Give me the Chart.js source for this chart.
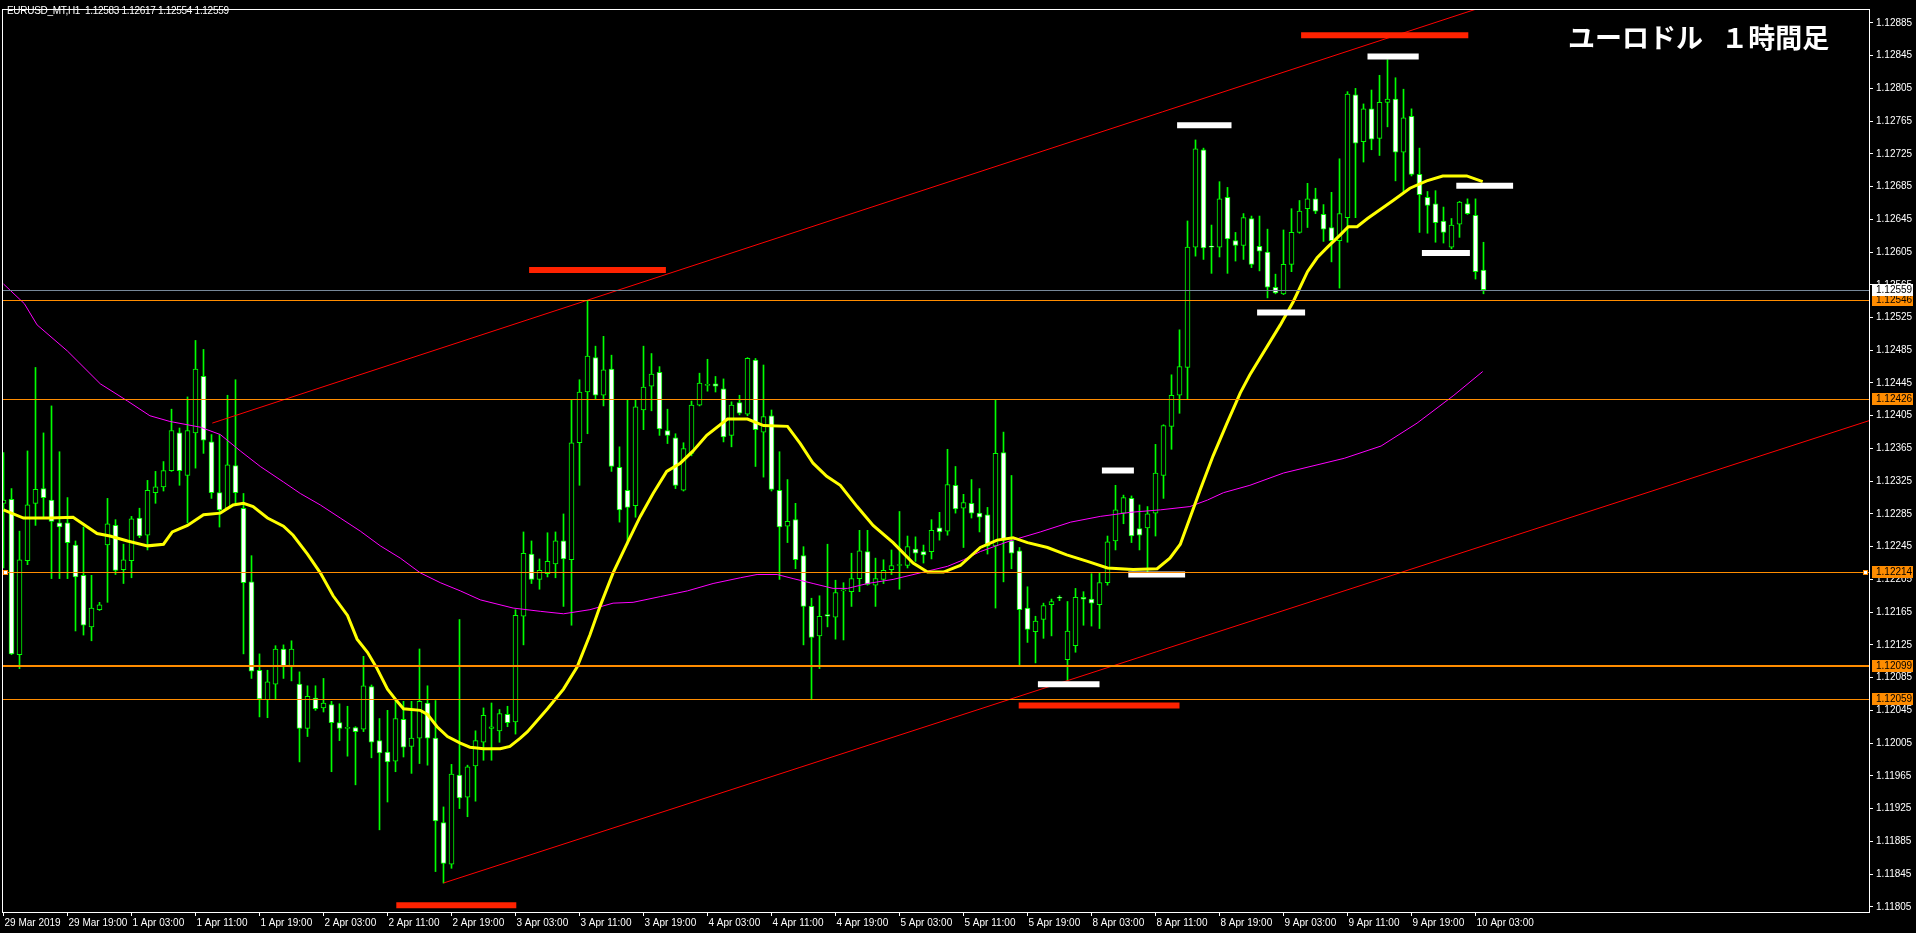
<!DOCTYPE html>
<html>
<head>
<meta charset="utf-8">
<title>EURUSD H1</title>
<script src="https://cdn.jsdelivr.net/npm/chart.js@4.4.1/dist/chart.umd.min.js"></script>
<style>
    html, body { margin: 0; padding: 0; background: #000; overflow: hidden; }
    #wrap { position: relative; width: 1916px; height: 933px; }
    #chart { position: absolute; left: 0; top: 0; }
    #title {
        position: absolute; left: 7px; top: 5px; color: #fff; white-space: pre;
        font: 10px/12px 'Liberation Sans', sans-serif; letter-spacing: -0.3px;
    }
    #caption {
        position: absolute; left: 1568px; top: 23px; color: #fff; white-space: pre;
        font: bold 27px/27px 'Noto Sans CJK JP', sans-serif; word-spacing: 12px;
    }
</style>
</head>
<body>
<div id="wrap">
    <canvas id="chart" width="1916" height="933"></canvas>
    <div id="title">EURUSD_MT,H1  1.12583 1.12617 1.12554 1.12559</div>
    <div id="caption">ユーロドル １時間足</div>
</div>
<script>
// --- candles, 29 Mar 2019 11:00 .. 10 Apr 2019 04:00 (H1)
const barOpen = [
    1.12298, 1.12303, 1.12113, 1.12228, 1.12298, 1.12316, 1.12302, 1.12274, 1.12274, 1.12247,
    1.12210, 1.12147, 1.12168, 1.12247, 1.12271, 1.12217, 1.12228, 1.12280, 1.12259, 1.12311,
    1.12318, 1.12338, 1.12384, 1.12332, 1.12384, 1.12453, 1.12373, 1.12311, 1.12292, 1.12344,
    1.12292, 1.12202, 1.12094, 1.12058, 1.12077, 1.12120, 1.12098, 1.12077, 1.12023, 1.12060,
    1.12048, 1.12052, 1.12030, 1.12023, 1.12024, 1.12022, 1.12074, 1.12008, 1.11994, 1.11983,
    1.12034, 1.12001, 1.12011, 1.12054, 1.12011, 1.11908, 1.11857, 1.11966, 1.11939, 1.11977,
    1.12006, 1.12023, 1.12020, 1.12040, 1.12031, 1.12160, 1.12236, 1.12205, 1.12212, 1.12224,
    1.12252, 1.12229, 1.12372, 1.12434, 1.12476, 1.12430, 1.12462, 1.12342, 1.12314, 1.12295,
    1.12412, 1.12441, 1.12458, 1.12387, 1.12378, 1.12314, 1.12359, 1.12418, 1.12442, 1.12444,
    1.12438, 1.12381, 1.12421, 1.12407, 1.12473, 1.12385, 1.12405, 1.12314, 1.12270, 1.12278,
    1.12234, 1.12172, 1.12136, 1.12162, 1.12159, 1.12191, 1.12190, 1.12206, 1.12239, 1.12198,
    1.12205, 1.12217, 1.12222, 1.12222, 1.12242, 1.12239, 1.12239, 1.12268, 1.12264, 1.12320,
    1.12292, 1.12298, 1.12286, 1.12284, 1.12246, 1.12360, 1.12252, 1.12240, 1.12170, 1.12141,
    1.12156, 1.12174, 1.12183, 1.12107, 1.12124, 1.12183, 1.12181, 1.12174, 1.12201, 1.12252,
    1.12286, 1.12304, 1.12267, 1.12268, 1.12286, 1.12332, 1.12392, 1.12430, 1.12464, 1.12611,
    1.12730, 1.12612, 1.12611, 1.12672, 1.12619, 1.12613, 1.12646, 1.12612, 1.12605, 1.12562,
    1.12554, 1.12590, 1.12629, 1.12658, 1.12670, 1.12651, 1.12635, 1.12619, 1.12647, 1.12797,
    1.12740, 1.12780, 1.12744, 1.12788, 1.12792, 1.12727, 1.12771, 1.12700, 1.12672, 1.12664,
    1.12643, 1.12611, 1.12639, 1.12664, 1.12650, 1.12583
];
const barHigh = [
    1.12360, 1.12316, 1.12264, 1.12362, 1.12464, 1.12384, 1.12417, 1.12361, 1.12305, 1.12252,
    1.12269, 1.12210, 1.12177, 1.12304, 1.12278, 1.12248, 1.12282, 1.12292, 1.12326, 1.12337,
    1.12349, 1.12413, 1.12390, 1.12428, 1.12497, 1.12486, 1.12382, 1.12382, 1.12430, 1.12449,
    1.12310, 1.12234, 1.12114, 1.12094, 1.12124, 1.12125, 1.12130, 1.12092, 1.12075, 1.12075,
    1.12084, 1.12056, 1.12053, 1.12050, 1.12025, 1.12111, 1.12076, 1.12035, 1.12045, 1.12057,
    1.12056, 1.12056, 1.12120, 1.12075, 1.12057, 1.11927, 1.11979, 1.12156, 1.11978, 1.12020,
    1.12048, 1.12054, 1.12046, 1.12050, 1.12168, 1.12263, 1.12252, 1.12230, 1.12262, 1.12263,
    1.12285, 1.12424, 1.12449, 1.12546, 1.12490, 1.12502, 1.12479, 1.12367, 1.12425, 1.12425,
    1.12490, 1.12481, 1.12465, 1.12413, 1.12383, 1.12372, 1.12423, 1.12457, 1.12474, 1.12453,
    1.12450, 1.12422, 1.12430, 1.12476, 1.12475, 1.12467, 1.12412, 1.12361, 1.12327, 1.12298,
    1.12245, 1.12182, 1.12185, 1.12248, 1.12204, 1.12201, 1.12237, 1.12265, 1.12265, 1.12231,
    1.12229, 1.12241, 1.12288, 1.12258, 1.12257, 1.12247, 1.12278, 1.12287, 1.12364, 1.12343,
    1.12309, 1.12327, 1.12316, 1.12293, 1.12424, 1.12385, 1.12332, 1.12244, 1.12196, 1.12160,
    1.12176, 1.12181, 1.12185, 1.12178, 1.12194, 1.12190, 1.12212, 1.12213, 1.12258, 1.12320,
    1.12308, 1.12307, 1.12296, 1.12294, 1.12370, 1.12394, 1.12455, 1.12510, 1.12643, 1.12742,
    1.12732, 1.12638, 1.12691, 1.12684, 1.12629, 1.12652, 1.12649, 1.12649, 1.12633, 1.12578,
    1.12632, 1.12658, 1.12668, 1.12689, 1.12683, 1.12663, 1.12678, 1.12719, 1.12801, 1.12805,
    1.12786, 1.12803, 1.12821, 1.12840, 1.12818, 1.12804, 1.12780, 1.12732, 1.12679, 1.12680,
    1.12660, 1.12646, 1.12667, 1.12670, 1.12670, 1.12617
];
const barLow = [
    1.12219, 1.12113, 1.12096, 1.12223, 1.12271, 1.12281, 1.12206, 1.12206, 1.12206, 1.12142,
    1.12137, 1.12130, 1.12167, 1.12177, 1.12211, 1.12200, 1.12207, 1.12256, 1.12241, 1.12298,
    1.12313, 1.12337, 1.12320, 1.12274, 1.12341, 1.12359, 1.12304, 1.12269, 1.12291, 1.12298,
    1.12114, 1.12084, 1.12037, 1.12036, 1.12058, 1.12084, 1.12081, 1.11982, 1.12013, 1.12045,
    1.12043, 1.11970, 1.12008, 1.11989, 1.11954, 1.12019, 1.11987, 1.11899, 1.11933, 1.11970,
    1.11988, 1.11968, 1.11980, 1.11978, 1.11848, 1.11834, 1.11852, 1.11925, 1.11915, 1.11934,
    1.11984, 1.11984, 1.12006, 1.12025, 1.12016, 1.12125, 1.12200, 1.12193, 1.12208, 1.12207,
    1.12172, 1.12149, 1.12320, 1.12383, 1.12425, 1.12417, 1.12337, 1.12275, 1.12248, 1.12281,
    1.12388, 1.12411, 1.12381, 1.12371, 1.12316, 1.12313, 1.12356, 1.12417, 1.12435, 1.12434,
    1.12373, 1.12367, 1.12406, 1.12405, 1.12343, 1.12330, 1.12313, 1.12205, 1.12250, 1.12218,
    1.12125, 1.12058, 1.12096, 1.12147, 1.12132, 1.12131, 1.12172, 1.12190, 1.12198, 1.12172,
    1.12200, 1.12211, 1.12193, 1.12219, 1.12227, 1.12225, 1.12230, 1.12253, 1.12259, 1.12286,
    1.12244, 1.12280, 1.12263, 1.12236, 1.12170, 1.12202, 1.12218, 1.12100, 1.12128, 1.12103,
    1.12133, 1.12136, 1.12179, 1.12081, 1.12116, 1.12149, 1.12148, 1.12145, 1.12198, 1.12241,
    1.12273, 1.12250, 1.12241, 1.12214, 1.12258, 1.12304, 1.12364, 1.12408, 1.12425, 1.12600,
    1.12596, 1.12579, 1.12599, 1.12579, 1.12594, 1.12596, 1.12586, 1.12582, 1.12549, 1.12554,
    1.12553, 1.12581, 1.12628, 1.12635, 1.12652, 1.12618, 1.12593, 1.12561, 1.12617, 1.12647,
    1.12715, 1.12730, 1.12723, 1.12758, 1.12692, 1.12678, 1.12698, 1.12629, 1.12628, 1.12617,
    1.12616, 1.12609, 1.12623, 1.12651, 1.12572, 1.12554
];
const barClose = [
    1.12302, 1.12114, 1.12229, 1.12296, 1.12315, 1.12305, 1.12276, 1.12269, 1.12250, 1.12208,
    1.12149, 1.12170, 1.12174, 1.12273, 1.12216, 1.12229, 1.12279, 1.12258, 1.12314, 1.12318,
    1.12338, 1.12387, 1.12338, 1.12387, 1.12462, 1.12375, 1.12311, 1.12290, 1.12345, 1.12311,
    1.12201, 1.12093, 1.12059, 1.12080, 1.12120, 1.12099, 1.12120, 1.12023, 1.12062, 1.12047,
    1.12054, 1.12030, 1.12023, 1.12024, 1.12019, 1.12075, 1.12006, 1.11993, 1.11982, 1.12035,
    1.12000, 1.12011, 1.12056, 1.12011, 1.11910, 1.11858, 1.11967, 1.11938, 1.11976, 1.12008,
    1.12039, 1.12025, 1.12041, 1.12030, 1.12161, 1.12237, 1.12205, 1.12216, 1.12227, 1.12252,
    1.12230, 1.12372, 1.12434, 1.12478, 1.12430, 1.12461, 1.12343, 1.12290, 1.12293, 1.12416,
    1.12440, 1.12456, 1.12389, 1.12381, 1.12320, 1.12365, 1.12418, 1.12445, 1.12443, 1.12441,
    1.12379, 1.12418, 1.12408, 1.12475, 1.12388, 1.12404, 1.12315, 1.12269, 1.12276, 1.12229,
    1.12172, 1.12134, 1.12160, 1.12160, 1.12189, 1.12192, 1.12206, 1.12240, 1.12199, 1.12206,
    1.12216, 1.12222, 1.12223, 1.12245, 1.12237, 1.12235, 1.12265, 1.12263, 1.12321, 1.12291,
    1.12299, 1.12286, 1.12281, 1.12246, 1.12359, 1.12253, 1.12237, 1.12168, 1.12144, 1.12154,
    1.12173, 1.12178, 1.12182, 1.12142, 1.12183, 1.12181, 1.12176, 1.12201, 1.12251, 1.12290,
    1.12305, 1.12258, 1.12259, 1.12285, 1.12335, 1.12393, 1.12430, 1.12465, 1.12611, 1.12731,
    1.12610, 1.12611, 1.12670, 1.12621, 1.12613, 1.12647, 1.12590, 1.12606, 1.12562, 1.12555,
    1.12590, 1.12629, 1.12655, 1.12670, 1.12655, 1.12633, 1.12619, 1.12652, 1.12798, 1.12738,
    1.12780, 1.12743, 1.12788, 1.12792, 1.12727, 1.12769, 1.12700, 1.12675, 1.12662, 1.12641,
    1.12629, 1.12638, 1.12666, 1.12652, 1.12581, 1.12559
];

// time axis labels (every 8 bars)
const xLabelBars = [0, 8, 16, 24, 32, 40, 48, 56, 64, 72, 80, 88, 96, 104, 112, 120, 128, 136, 144, 152, 160, 168, 176, 184];
const xLabelTexts = [
    '29 Mar 2019', '29 Mar 19:00', '1 Apr 03:00', '1 Apr 11:00', '1 Apr 19:00', '2 Apr 03:00',
    '2 Apr 11:00', '2 Apr 19:00', '3 Apr 03:00', '3 Apr 11:00', '3 Apr 19:00', '4 Apr 03:00',
    '4 Apr 11:00', '4 Apr 19:00', '5 Apr 03:00', '5 Apr 11:00', '5 Apr 19:00', '8 Apr 03:00',
    '8 Apr 11:00', '8 Apr 19:00', '9 Apr 03:00', '9 Apr 11:00', '9 Apr 19:00', '10 Apr 03:00'
];
const yTickValues = [
    1.11805, 1.11845, 1.11885, 1.11925, 1.11965, 1.12005, 1.12045, 1.12085, 1.12125, 1.12165,
    1.12205, 1.12245, 1.12285, 1.12325, 1.12365, 1.12405, 1.12445, 1.12485, 1.12525, 1.12565,
    1.12605, 1.12645, 1.12685, 1.12725, 1.12765, 1.12805, 1.12845, 1.12885
];

// moving averages (bar position, price)
const maFastBars = [
    0, 2.5, 5.8, 8.7, 11.7, 13.3, 15.5, 18, 20, 21.1, 23, 25, 27.1, 28.7, 30, 31.2, 33, 35, 36.2, 38,
    39.6, 41.2, 43, 44.2, 45.5, 46.7, 48, 49.2, 50, 52.1, 53, 54.2, 55.5, 57.1, 58.3, 60, 62.1, 63.3, 64.6, 65.5,
    68, 70, 71.7, 73.3, 74.6, 76.2, 78, 79.6, 81.2, 82.9, 84.6, 86.2, 87.9, 90.5, 93, 95, 98, 99.6, 101.2, 102.9,
    104.6, 106.7, 108.7, 111.2, 113.7, 115.5, 117.5, 119.6, 122.1, 124.2, 126.2, 128, 130.5, 132.9, 135.5, 138, 141.2, 144.2, 145.8, 147.1,
    148.3, 149.6, 151.2, 152.9, 154.6, 155.8, 159.6, 161.2, 163, 164.2, 165.5, 167.1, 168.1, 169.2, 170.5, 172.1, 173.7, 175.8, 177.9, 179.9,
    182.9, 184.9
];
const maFastValues = [
    1.12290, 1.12280, 1.12280, 1.12281, 1.12261, 1.12258, 1.12252, 1.12246, 1.12248, 1.12263,
    1.12271, 1.12284, 1.12286, 1.12296, 1.12298, 1.12294, 1.12280, 1.12270, 1.12259, 1.12236,
    1.12213, 1.12185, 1.12161, 1.12132, 1.12116, 1.12096, 1.12071, 1.12056, 1.12047, 1.12045,
    1.12040, 1.12025, 1.12013, 1.12005, 1.12000, 1.11998, 1.11998, 1.12001, 1.12011, 1.12019,
    1.12047, 1.12071, 1.12098, 1.12137, 1.12173, 1.12213, 1.12250, 1.12282, 1.12310, 1.12337,
    1.12347, 1.12362, 1.12381, 1.12401, 1.12401, 1.12393, 1.12392, 1.12371, 1.12347, 1.12331,
    1.12320, 1.12294, 1.12271, 1.12250, 1.12225, 1.12214, 1.12214, 1.12222, 1.12244, 1.12253,
    1.12256, 1.12250, 1.12244, 1.12235, 1.12227, 1.12219, 1.12217, 1.12218, 1.12231, 1.12248,
    1.12280, 1.12315, 1.12356, 1.12395, 1.12433, 1.12455, 1.12516, 1.12544, 1.12581, 1.12598,
    1.12611, 1.12626, 1.12636, 1.12636, 1.12646, 1.12657, 1.12668, 1.12683, 1.12692, 1.12698,
    1.12698, 1.12691
];
const maSlowBars = [
    0, 2.6, 4.2, 8, 12.1, 15.5, 18.3, 20.8, 24.6, 27.1, 29.6, 32.1, 35, 37.1, 39.6, 42.1, 44.6, 47.1, 49.6, 52.1,
    54.6, 57.1, 59.6, 63.7, 67.1, 70, 73.3, 76.2, 78.7, 82.1, 85.5, 88.7, 92.1, 94.2, 96.7, 98.7, 101.2, 103.7, 105.5, 108,
    111.2, 114.6, 118, 120, 122.1, 125.8, 129.6, 133.4, 137.1, 140.9, 144.6, 148.3, 150.5, 152.5, 155.8, 160, 167.6, 172.2, 176.7, 181.3,
    184.9
];
const maSlowValues = [
    1.12566, 1.12542, 1.12516, 1.12484, 1.12444, 1.12423, 1.12405, 1.12398, 1.12391, 1.12382,
    1.12362, 1.12343, 1.12324, 1.12310, 1.12296, 1.12280, 1.12264, 1.12246, 1.12231, 1.12213,
    1.12201, 1.12191, 1.12180, 1.12170, 1.12166, 1.12163, 1.12168, 1.12176, 1.12177, 1.12184,
    1.12191, 1.12200, 1.12207, 1.12211, 1.12211, 1.12206, 1.12200, 1.12194, 1.12194, 1.12200,
    1.12205, 1.12213, 1.12221, 1.12229, 1.12239, 1.12252, 1.12263, 1.12275, 1.12282, 1.12287,
    1.12290, 1.12294, 1.12302, 1.12311, 1.12320, 1.12335, 1.12353, 1.12368, 1.12396, 1.12430,
    1.12459
];

// drawn objects
const upperTrendBars = [26.1, 186];
const upperTrendPrices = [1.12396, 1.12908];
const lowerTrendBars = [55, 233.2];
const lowerTrendPrices = [1.11834, 1.12399];
const levelPrices = [1.12546, 1.12426, 1.12214, 1.12099, 1.12059];
const bidPrice = 1.12559;
const redMarkFrom = [65.7, 162.2, 49.1, 126.9];
const redMarkTo = [82.8, 183.1, 64.1, 147.0];
const redMarkPrice = [1.12583, 1.12870, 1.11807, 1.12051];
const whiteMarkFrom = [170.5, 146.7, 181.6, 177.3, 156.7, 137.3, 140.6, 129.3];
const whiteMarkTo = [176.9, 153.5, 188.7, 183.3, 162.7, 141.3, 147.7, 137.0];
const whiteMarkPrice = [1.12844, 1.12760, 1.12686, 1.12604, 1.12531, 1.12338, 1.12211, 1.12077];

const LIME = '#00ff00';
const ORANGE = '#ff8c00';
const AXIS_FONT = { family: "'Liberation Sans', sans-serif", size: 10 };

const barIdx = barOpen.map((_, i) => i);
const pts = (xs, ys) => xs.map((x, k) => ({ x: x, y: ys[k] }));

function markDatasets(from, to, price, color) {
    return from.map((x, k) => ({
        type: 'line',
        data: [{ x: x, y: price[k] }, { x: to[k], y: price[k] }],
        borderColor: color,
        borderWidth: 6,
        borderCapStyle: 'butt',
        pointRadius: 0,
        order: 1,
    }));
}

function drawPriceBox(ctx, yScale, price, bg) {
    const py = Math.round(yScale.getPixelForValue(price));
    const x0 = yScale.left + 3;
    ctx.fillStyle = bg;
    ctx.fillRect(x0, py - 6, yScale.width - 6, 12);
    ctx.fillStyle = '#000';
    ctx.font = `${AXIS_FONT.size}px ${AXIS_FONT.family}`;
    ctx.textBaseline = 'middle';
    ctx.textAlign = 'left';
    ctx.fillText(price.toFixed(5), x0 + 4, py);
}

const mt4Overlay = {
    id: 'mt4Overlay',
    beforeDraw(chart) {
        const { ctx } = chart;
        ctx.save();
        ctx.fillStyle = '#000';
        ctx.fillRect(0, 0, chart.width, chart.height);
        ctx.restore();
    },
    afterDatasetsDraw(chart) {
        const { ctx, chartArea: a, scales: { y } } = chart;
        ctx.save();
        // horizontal levels
        levelPrices.forEach((p, k) => {
            const py = Math.round(y.getPixelForValue(p));
            const w = k === 3 ? 2 : 1;
            ctx.fillStyle = ORANGE;
            ctx.fillRect(a.left, py - (w - 1), a.right - a.left, w);
        });
        // bid line
        const by = Math.round(y.getPixelForValue(bidPrice));
        ctx.fillStyle = '#778899';
        ctx.fillRect(a.left, by, a.right - a.left, 1);
        // selection handles on the 1.12214 level
        const sy = Math.round(y.getPixelForValue(levelPrices[2]));
        ctx.fillStyle = '#fff';
        ctx.strokeStyle = ORANGE;
        ctx.lineWidth = 1;
        [a.left + 1, a.right - 6].forEach(sx => {
            ctx.fillRect(sx, sy - 2, 5, 5);
            ctx.strokeRect(sx + 0.5, sy - 1.5, 4, 4);
        });
        ctx.restore();
    },
    afterDraw(chart) {
        const { ctx, chartArea: a, scales: { y } } = chart;
        ctx.save();
        // frame top / left
        ctx.fillStyle = '#fff';
        ctx.fillRect(a.left, a.top, a.right - a.left, 1);
        ctx.fillRect(a.left, a.top, 1, a.bottom - a.top);
        levelPrices.forEach(p => drawPriceBox(ctx, y, p, ORANGE));
        drawPriceBox(ctx, y, bidPrice, '#fff');
        ctx.restore();
    }
};

new Chart(document.getElementById('chart'), {
    type: 'bar',
    data: {
        datasets: [
            {
                type: 'bar',
                data: barIdx.map(i => ({ x: i, y: [barLow[i], barHigh[i]] })),
                backgroundColor: LIME,
                borderWidth: 0,
                barThickness: 1,
                grouped: false,
                order: 10,
            },
            {
                type: 'bar',
                data: barIdx.map(i => ({ x: i, y: [barOpen[i], barClose[i]] })),
                backgroundColor: barIdx.map(i => barClose[i] >= barOpen[i] ? '#000000' : '#ffffff'),
                borderColor: LIME,
                borderWidth: 1,
                borderSkipped: false,
                barThickness: 5,
                minBarLength: 1,
                grouped: false,
                order: 9,
            },
            {
                type: 'line',
                data: pts(maSlowBars, maSlowValues),
                borderColor: '#ff00ff',
                borderWidth: 1,
                pointRadius: 0,
                order: 6,
            },
            {
                type: 'line',
                data: pts(maFastBars, maFastValues),
                borderColor: '#ffff00',
                borderWidth: 3,
                pointRadius: 0,
                order: 5,
            },
            {
                type: 'line',
                data: pts(upperTrendBars, upperTrendPrices),
                borderColor: '#ff0000',
                borderWidth: 1,
                pointRadius: 0,
                order: 3,
            },
            {
                type: 'line',
                data: pts(lowerTrendBars, lowerTrendPrices),
                borderColor: '#ff0000',
                borderWidth: 1,
                pointRadius: 0,
                order: 3,
            },
            ...markDatasets(redMarkFrom, redMarkTo, redMarkPrice, '#ff2200'),
            ...markDatasets(whiteMarkFrom, whiteMarkTo, whiteMarkPrice, '#ffffff'),
        ]
    },
    options: {
        responsive: false,
        animation: false,
        events: [],
        layout: { padding: { left: 2, top: 2, right: 0, bottom: 0 } },
        plugins: { legend: { display: false }, tooltip: { enabled: false }, title: { display: false } },
        scales: {
            x: {
                type: 'linear',
                position: 'bottom',
                min: -0.1875,
                max: 233.1875,
                offset: false,
                afterBuildTicks: s => { s.ticks = xLabelBars.map(v => ({ value: v })); },
                afterFit: s => { s.height = 21; },
                ticks: {
                    autoSkip: false, maxRotation: 0, minRotation: 0,
                    color: '#fff', font: AXIS_FONT, align: 'start', labelOffset: 1, padding: 1,
                    callback: v => xLabelTexts[xLabelBars.indexOf(v)]
                },
                grid: { display: true, offset: false, drawOnChartArea: false, drawTicks: true, tickLength: 4, color: '#fff' },
                border: { display: true, color: '#fff', width: 1 }
            },
            y: {
                type: 'linear',
                position: 'right',
                min: 1.117986,
                max: 1.129020,
                beginAtZero: false,
                afterBuildTicks: s => { s.ticks = yTickValues.map(v => ({ value: v })); },
                afterFit: s => { s.width = 47; },
                ticks: {
                    autoSkip: false, color: '#fff', font: AXIS_FONT, padding: 3,
                    callback: v => v.toFixed(5)
                },
                grid: { display: true, drawOnChartArea: false, drawTicks: true, tickLength: 4, color: '#fff' },
                border: { display: true, color: '#fff', width: 1 }
            }
        }
    },
    plugins: [mt4Overlay]
});
</script>
</body>
</html>
